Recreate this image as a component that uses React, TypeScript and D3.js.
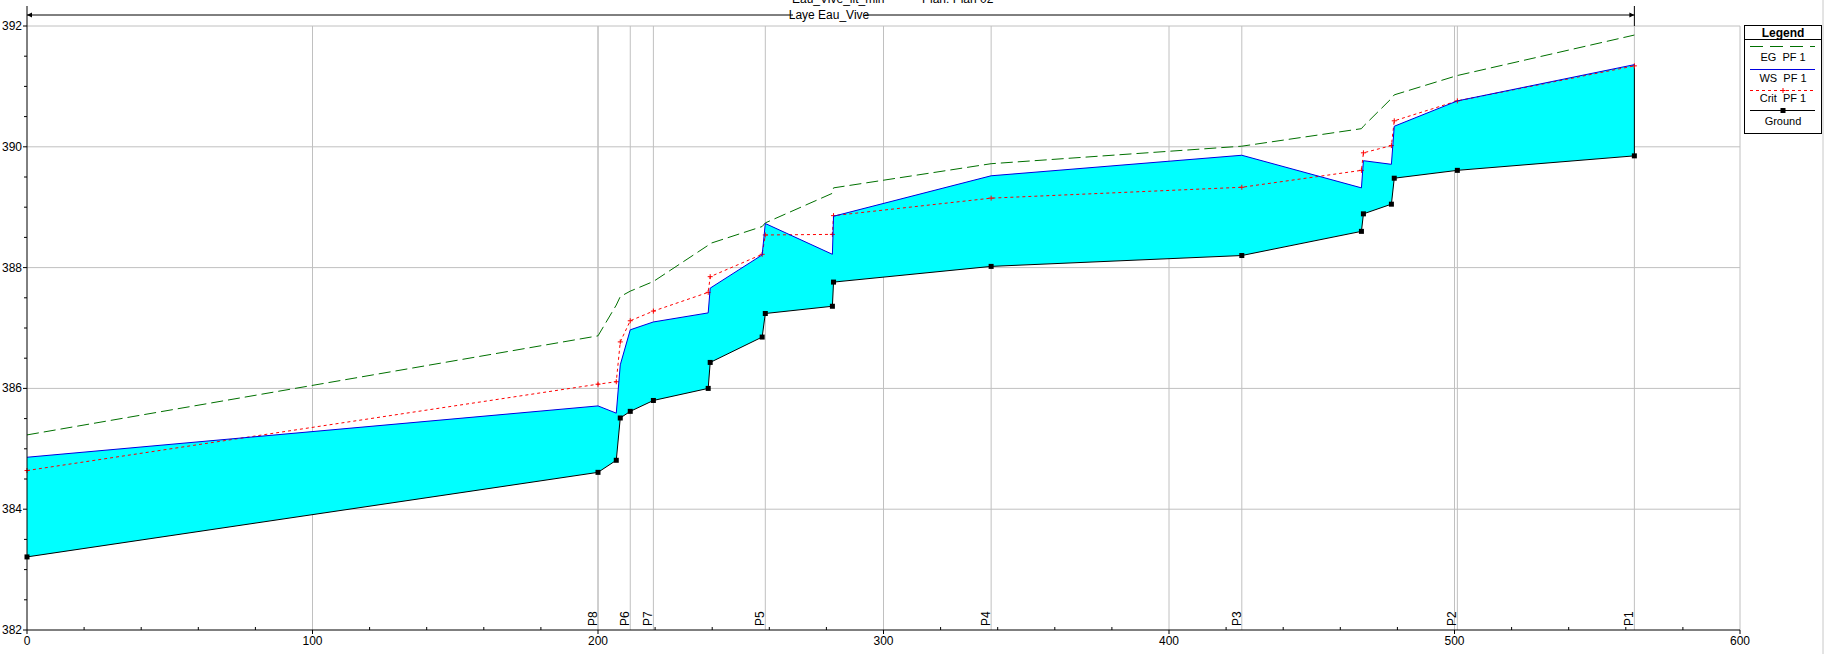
import React from "react";
import * as d3 from "d3";

const stations = [0, 200, 206.4, 207.8, 211.3, 219.4, 238.6, 239.3, 257.5, 258.6, 282.1, 282.5, 337.7, 425.5, 467.4, 468.1, 477.9, 478.9, 501.0, 563];
const ground = [383.21, 384.61, 384.81, 385.51, 385.62, 385.8, 386.0, 386.43, 386.85, 387.24, 387.36, 387.76, 388.02, 388.2, 388.6, 388.89, 389.05, 389.48, 389.61, 389.85];
const wsPF1 = [384.86, 385.71, 385.59, 386.39, 386.97, 387.1, 387.25, 387.66, 388.21, 388.73, 388.22, 388.85, 389.52, 389.86, 389.32, 389.77, 389.71, 390.34, 390.76, 391.36];
const critPF1 = [384.64, 386.07, 386.11, 386.77, 387.12, 387.28, 387.59, 387.85, 388.22, 388.54, 388.55, 388.86, 389.15, 389.33, 389.61, 389.9, 390.02, 390.43, 390.76, 391.34];
const egPF1 = [385.23, 386.87, 387.38, 387.52, 387.61, 387.77, 388.37, 388.4, 388.68, 388.74, 389.23, 389.32, 389.72, 390.01, 390.3, 390.34, 390.8, 390.86, 391.18, 391.85];

const sectionLabels = ["P8", "P6", "P7", "P5", "P4", "P3", "P2", "P1"];
const sectionStations = [200, 211.3, 219.4, 258.6, 337.7, 425.5, 501.0, 563];

const xTicks = [0, 100, 200, 300, 400, 500, 600];
const yTicks = [382, 384, 386, 388, 390, 392];

const titleText = "Eau_Vive_lit_min";
const planText = "Plan: Plan 02";
const reachText = "Laye Eau_Vive";
const legendItems = ["EG  PF 1", "WS  PF 1", "Crit  PF 1", "Ground"];

const W = 1825;
const H = 654;
const FONT = "'Liberation Sans Narrow', 'Liberation Sans', Arial, sans-serif";

export default function App() {
  const x = d3.scaleLinear().domain([0, 600]).range([27, 1740]);
  const y = d3.scaleLinear().domain([382, 392]).range([630, 26]);

  const pts = (vals: number[]) => stations.map((s, i) => [s, vals[i]] as [number, number]);
  const line = d3.line<[number, number]>().x((d) => x(d[0])).y((d) => y(d[1]));

  const area = d3
    .area<number>()
    .x((_, i) => x(stations[i]))
    .y0((_, i) => y(ground[i]))
    .y1((_, i) => y(wsPF1[i]));

  const minorX = d3.range(0, 601, 20).filter((v) => v % 100 !== 0);
  const minorY = d3.range(382, 392.01, 0.5).filter((v) => Math.abs(v % 2) > 0.01);

  const lastS = stations[stations.length - 1];
  const lastIdx = stations.length - 1;

  return (
    <svg width={W} height={H} style={{ position: "absolute", left: 0, top: 0, background: "#fff" }} fontFamily={FONT}>
      <rect x={0} y={0} width={W} height={H} fill="#fff" />
      {/* title (cut off at top) */}
      <text x={792} y={3} fontSize={12} fill="#000">{titleText}</text>
      <text x={922} y={3} fontSize={12} fill="#000">{planText}</text>

      {/* gridlines */}
      {xTicks.filter((t) => t > 0).map((t) => (
        <line key={"gx" + t} x1={x(t)} x2={x(t)} y1={y(392)} y2={y(382)} stroke="#c0c0c0" strokeWidth={1} />
      ))}
      {sectionStations.map((s, i) => (
        <line key={"gs" + i} x1={x(s)} x2={x(s)} y1={y(392)} y2={y(382)} stroke="#c0c0c0" strokeWidth={1} />
      ))}
      {yTicks.filter((t) => t > 382).map((t) => (
        <line key={"gy" + t} x1={x(0)} x2={x(600)} y1={y(t)} y2={y(t)} stroke="#c0c0c0" strokeWidth={1} />
      ))}

      {/* water fill */}
      <path d={area(stations) || ""} fill="#00ffff" stroke="none" />
      <line x1={x(lastS)} x2={x(lastS)} y1={y(ground[lastIdx])} y2={y(wsPF1[lastIdx])} stroke="#000" strokeWidth={1} />

      {/* EG */}
      <path d={line(pts(egPF1)) || ""} fill="none" stroke="#007000" strokeWidth={1} strokeDasharray="12,5" />
      {/* Crit */}
      <path d={line(pts(critPF1)) || ""} fill="none" stroke="#ff0000" strokeWidth={1} strokeDasharray="3,3" />
      {pts(critPF1).map((d, i) => (
        <g key={"cm" + i} stroke="#ff0000" strokeWidth={1}>
          <line x1={x(d[0]) - 2.5} x2={x(d[0]) + 2.5} y1={y(d[1])} y2={y(d[1])} />
          <line x1={x(d[0])} x2={x(d[0])} y1={y(d[1]) - 2.5} y2={y(d[1]) + 2.5} />
        </g>
      ))}
      {/* WS */}
      <path d={line(pts(wsPF1)) || ""} fill="none" stroke="#0000e0" strokeWidth={1} />
      {/* Ground */}
      <path d={line(pts(ground)) || ""} fill="none" stroke="#000" strokeWidth={1} />
      {pts(ground).map((d, i) => (
        <rect key={"gm" + i} x={x(d[0]) - 2.5} y={y(d[1]) - 2.5} width={5} height={5} fill="#000" />
      ))}

      {/* section labels */}
      {sectionStations.map((s, i) => (
        <text key={"sl" + i} transform={`translate(${x(s) - 1},${y(382) - 4}) rotate(-90)`} fontSize={12} fill="#000">
          {sectionLabels[i]}
        </text>
      ))}

      {/* axes */}
      <line x1={x(0)} x2={x(600)} y1={y(382)} y2={y(382)} stroke="#000" strokeWidth={1} />
      <line x1={x(0)} x2={x(0)} y1={6} y2={y(382)} stroke="#000" strokeWidth={1} />
      {xTicks.map((t) => (
        <g key={"xt" + t}>
          <line x1={x(t)} x2={x(t)} y1={y(382)} y2={y(382) + 4} stroke="#000" />
          <text x={x(t)} y={y(382) + 15} fontSize={12} textAnchor="middle" fill="#000">{t}</text>
        </g>
      ))}
      {minorX.map((t) => (
        <line key={"mx" + t} x1={x(t)} x2={x(t)} y1={y(382)} y2={y(382) - 3} stroke="#000" />
      ))}
      {yTicks.map((t) => (
        <g key={"yt" + t}>
          <line x1={x(0) - 4} x2={x(0)} y1={y(t)} y2={y(t)} stroke="#000" />
          <text x={x(0) - 5} y={y(t) + 4} fontSize={12} textAnchor="end" fill="#000">{t}</text>
        </g>
      ))}
      {minorY.map((t) => (
        <line key={"my" + t} x1={x(0) - 3} x2={x(0)} y1={y(t)} y2={y(t)} stroke="#000" />
      ))}

      {/* reach arrow */}
      <line x1={x(0)} x2={x(lastS)} y1={15} y2={15} stroke="#000" strokeWidth={1} />
      <path d={`M${x(0)},15 l5,-2.5 l0,5 z`} fill="#000" />
      <path d={`M${x(lastS)},15 l-5,-2.5 l0,5 z`} fill="#000" />
      <line x1={x(lastS)} x2={x(lastS)} y1={6} y2={26} stroke="#000" strokeWidth={1} />
      <rect x={793} y={8} width={72} height={14} fill="#fff" />
      <text x={829} y={19} fontSize={12} textAnchor="middle" fill="#000">{reachText}</text>

      {/* legend */}
      <line x1={1823} x2={1823} y1={0} y2={H} stroke="#c8c8c8" />
      <rect x={1744.5} y={25.5} width={77} height={108} fill="#fff" stroke="#000" strokeWidth={1} />
      <text x={1783} y={37} fontSize={12} fontWeight="bold" textAnchor="middle" fill="#000">Legend</text>
      <line x1={1744.5} x2={1821.5} y1={39.5} y2={39.5} stroke="#000" />
      <line x1={1750} x2={1815} y1={46.5} y2={46.5} stroke="#007000" strokeDasharray="13,7" />
      <text x={1783} y={61} fontSize={11} textAnchor="middle" fill="#000" style={{ whiteSpace: "pre" }}>{legendItems[0]}</text>
      <line x1={1750} x2={1815} y1={69.5} y2={69.5} stroke="#0000e0" />
      <text x={1783} y={82} fontSize={11} textAnchor="middle" fill="#000" style={{ whiteSpace: "pre" }}>{legendItems[1]}</text>
      <line x1={1750} x2={1815} y1={90.5} y2={90.5} stroke="#ff0000" strokeDasharray="3,3" />
      <line x1={1780.5} x2={1785.5} y1={90.5} y2={90.5} stroke="#ff0000" />
      <line x1={1783} x2={1783} y1={88} y2={93} stroke="#ff0000" />
      <text x={1783} y={102} fontSize={11} textAnchor="middle" fill="#000" style={{ whiteSpace: "pre" }}>{legendItems[2]}</text>
      <line x1={1750} x2={1815} y1={110.5} y2={110.5} stroke="#000" />
      <rect x={1780.5} y={108} width={5} height={5} fill="#000" />
      <text x={1783} y={125} fontSize={11} textAnchor="middle" fill="#000">{legendItems[3]}</text>
    </svg>
  );
}
